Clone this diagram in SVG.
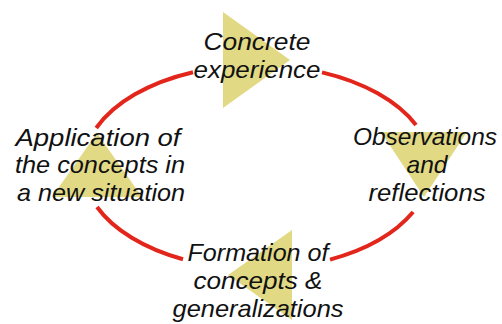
<svg xmlns="http://www.w3.org/2000/svg" width="502" height="324" viewBox="0 0 502 324">
<style>
.arc{fill:none;stroke:#e3261c;stroke-width:4;stroke-linecap:butt}
.tri{fill:#e2d985}
.lbl{font-family:"Liberation Sans",Arial,sans-serif;font-style:italic;font-size:24px;fill:#111;text-anchor:middle}
</style>
<rect width="502" height="324" fill="#fff"/>
<g id="connectors">
<path class="arc" d="M322,72.4 A174,102 0 0,1 416,125"/>
<path class="arc" d="M413.1,212 A174,102 0 0,1 330,259.6"/>
<path class="arc" d="M183,259.3 A174,102 0 0,1 97,207"/>
<path class="arc" d="M96.2,128 A174,102 0 0,1 193,72.2"/>
</g>
<g id="concrete-experience">
<polygon class="tri" points="223,12 223,108 290,60"/>
<text class="lbl" x="257" y="50" textLength="107" lengthAdjust="spacingAndGlyphs">Concrete</text>
<text class="lbl" x="257" y="78" textLength="127" lengthAdjust="spacingAndGlyphs">experience</text>
</g>
<g id="observations-reflections">
<polygon class="tri" points="381,132 467,132 424,197"/>
<text class="lbl" x="425" y="145" textLength="144" lengthAdjust="spacingAndGlyphs">Observations</text>
<text class="lbl" x="427" y="173" textLength="41" lengthAdjust="spacingAndGlyphs">and</text>
<text class="lbl" x="427" y="201" textLength="117" lengthAdjust="spacingAndGlyphs">reflections</text>
</g>
<g id="formation-concepts">
<polygon class="tri" points="292,230 292,320 228,275"/>
<text class="lbl" x="258" y="261" textLength="141" lengthAdjust="spacingAndGlyphs">Formation of</text>
<text class="lbl" x="258" y="289" textLength="129" lengthAdjust="spacingAndGlyphs">concepts &amp;</text>
<text class="lbl" x="258" y="317" textLength="171" lengthAdjust="spacingAndGlyphs">generalizations</text>
</g>
<g id="application-concepts">
<polygon class="tri" points="97,133 52,197 142,197"/>
<text class="lbl" x="98" y="146" textLength="165" lengthAdjust="spacingAndGlyphs">Application of</text>
<text class="lbl" x="100" y="173" textLength="170" lengthAdjust="spacingAndGlyphs">the concepts in</text>
<text class="lbl" x="101" y="201" textLength="168" lengthAdjust="spacingAndGlyphs">a new situation</text>
</g>
</svg>
